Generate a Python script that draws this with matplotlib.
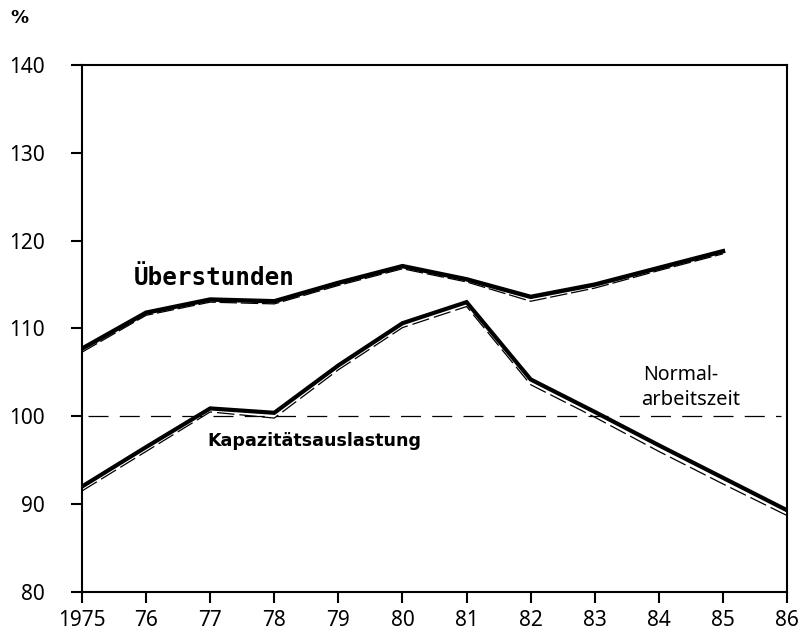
import numpy as np
import matplotlib.pyplot as plt

plt.rcParams['font.family'] = ['Noto Sans', 'DejaVu Sans']

years = np.arange(1975, 1987)
year_labels = ['1975'] + [str(y)[2:] for y in years[1:]]

# Überstunden (1975-1985)
ueber_years = np.arange(1975, 1986)
ueber = [107.7, 111.8, 113.3, 113.1, 115.2, 117.1, 115.6, 113.6, 115.0, 116.9, 118.8]
ueber_b = [107.3, 111.5, 113.0, 112.8, 114.9, 116.8, 115.3, 113.1, 114.6, 116.6, 118.5]

# Kapazitätsauslastung (1975-1986)
kap = [92.0, 96.5, 100.9, 100.4, 105.8, 110.6, 113.0, 104.2, 100.5, 96.7, 93.0, 89.3]
kap_b = [91.5, 96.0, 100.5, 99.8, 105.3, 110.1, 112.5, 103.6, 99.9, 96.0, 92.3, 88.7]

normal = 100

fig = plt.figure(figsize=(7.99, 6.36), dpi=100)
ax = fig.add_axes([0.1026, 0.0692, 0.8825, 0.8286])

ax.plot(ueber_years, ueber, color='black', lw=3.2, solid_joinstyle='miter')
ax.plot(ueber_years, ueber_b, color='black', lw=0.9, dashes=(14, 3))
ax.plot(years, kap, color='black', lw=3.0, solid_joinstyle='miter')
ax.plot(years, kap_b, color='black', lw=0.9, dashes=(14, 4))

ax.plot([1975.1, 1985.9], [normal, normal], color='black', lw=0.9, dashes=(16, 9))

ax.set_xlim(1975, 1986)
ax.set_ylim(80, 140)
ax.set_xticks(years)
ax.set_xticklabels(year_labels)
ax.set_yticks(np.arange(80, 141, 10))

for s in ax.spines.values():
    s.set_linewidth(1.5)
ax.tick_params(axis='both', direction='out', length=8, width=1.5, labelsize=15, pad=5)
ax.tick_params(axis='y', pad=19)

ax.text(1975.8, 115.7, 'Überstunden', fontsize=17.5, fontweight='bold', va='center', ha='left',
        family='DejaVu Sans Mono')
ax.text(1976.95, 97.2, 'Kapazitätsauslastung', fontsize=12.6, fontweight='bold', va='center', ha='left',
        family='DejaVu Sans')
ax.text(1983.75, 104.7, 'Normal-', fontsize=14, va='center', ha='left')
ax.text(1983.72, 101.85, 'arbeitszeit', fontsize=14.5, va='center', ha='left')

fig.text(0.013, 0.972, '%', fontsize=13, fontweight='bold', va='center', ha='left',
         family='DejaVu Sans')

fig.savefig('out.png', dpi=100)
